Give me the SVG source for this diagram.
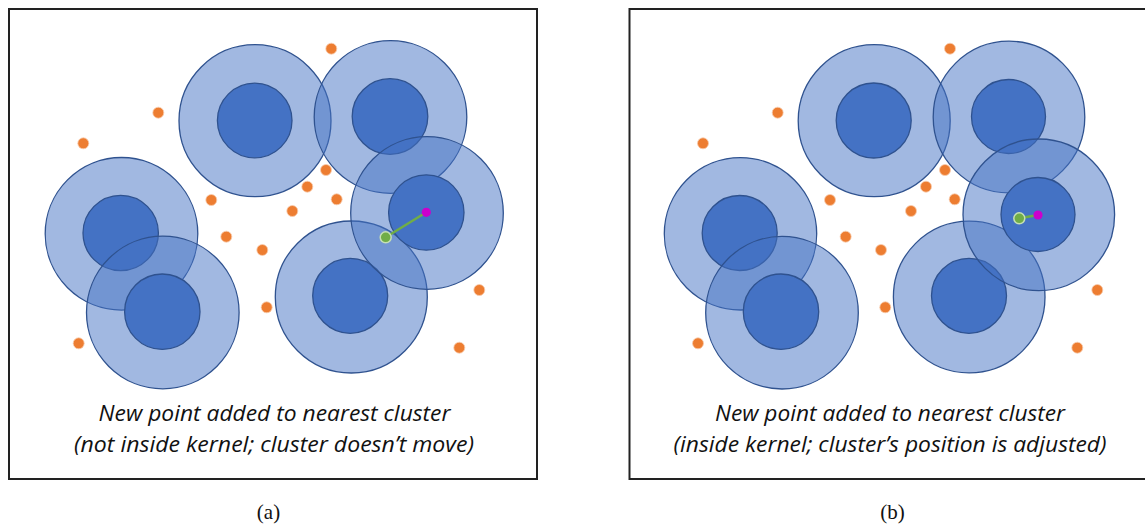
<svg xmlns="http://www.w3.org/2000/svg" width="1145" height="527" viewBox="0 0 1145 527">
<style>
.frame{fill:#fff;stroke:#222;stroke-width:2}
.outer{fill:#4472C4;fill-opacity:0.5;stroke:#2F528F;stroke-width:1.3}
.inner{fill:#4472C4;stroke:#2F528F;stroke-width:1.3}
.dot{fill:#ED7D31;stroke:#F8CBAD;stroke-width:0.8}
.newpt{fill:#70AD47;stroke:#C5E0B4;stroke-width:1.5}
.center{fill:#CC00CC}
.link{stroke:#70AD47;stroke-width:2.5;fill:none}
.cap{font-family:"Open Sans","Liberation Sans",sans-serif;font-style:italic;font-size:21px;fill:#111;text-anchor:middle}
.lbl{font-family:"Liberation Serif",serif;font-size:21px;fill:#111;text-anchor:middle}
</style>
<rect width="1145" height="527" fill="#fff"/>

<!-- Panel (a) -->
<g id="panel-a">
<rect class="frame" x="9" y="9" width="528" height="470"/>
<g id="a-points">
<circle class="dot" cx="331.3" cy="48.7" r="5.5"/>
<circle class="dot" cx="158.3" cy="112.7" r="5.5"/>
<circle class="dot" cx="83.3" cy="143.3" r="5.5"/>
<circle class="dot" cx="326" cy="170" r="5.5"/>
<circle class="dot" cx="307.3" cy="186.7" r="5.5"/>
<circle class="dot" cx="211.3" cy="200" r="5.5"/>
<circle class="dot" cx="336.7" cy="199.3" r="5.5"/>
<circle class="dot" cx="292.3" cy="211" r="5.5"/>
<circle class="dot" cx="226.3" cy="236.7" r="5.5"/>
<circle class="dot" cx="262.3" cy="250" r="5.5"/>
<circle class="dot" cx="479.3" cy="290" r="5.5"/>
<circle class="dot" cx="266.7" cy="307.3" r="5.5"/>
<circle class="dot" cx="78.7" cy="343.3" r="5.5"/>
<circle class="dot" cx="459.3" cy="347.7" r="5.5"/>
</g>
<g id="a-cluster-top">
<circle class="outer" cx="255" cy="120.7" r="76"/>
<circle class="inner" cx="254.7" cy="120.5" r="37.3"/>
</g>
<g id="a-cluster-topright">
<circle class="outer" cx="390.5" cy="117" r="76.3"/>
<circle class="inner" cx="390" cy="116.5" r="37.8"/>
</g>
<g id="a-cluster-left">
<circle class="outer" cx="121.5" cy="233.8" r="76.3"/>
<circle class="inner" cx="120.7" cy="233" r="37.7"/>
</g>
<g id="a-cluster-bottomleft">
<circle class="outer" cx="162.8" cy="312.5" r="76.3"/>
<circle class="inner" cx="162.3" cy="311.7" r="37.7"/>
</g>
<g id="a-cluster-bottom">
<circle class="outer" cx="351.3" cy="297" r="76"/>
<circle class="inner" cx="350.2" cy="295.8" r="37.5"/>
</g>
<g id="a-cluster-right">
<circle class="outer" cx="427" cy="213" r="76.3"/>
<circle class="inner" cx="426.3" cy="212.5" r="37.7"/>
</g>
<g id="a-connectors">
<line class="link" x1="385.7" y1="237.3" x2="426.3" y2="212.3"/>
</g>
<g id="a-newpoint"><circle class="newpt" cx="385.7" cy="237.3" r="5.5"/></g>
<g id="a-center"><circle class="center" cx="426.3" cy="212.3" r="4.6"/></g>
<g id="a-caption">
<text class="cap" x="274.5" y="421" textLength="352" lengthAdjust="spacingAndGlyphs">New point added to nearest cluster</text>
<text class="cap" x="274" y="451.5" textLength="400" lengthAdjust="spacingAndGlyphs">(not inside kernel; cluster doesn’t move)</text>
</g>
<text class="lbl" x="268.5" y="519">(a)</text>
</g>

<!-- Panel (b) -->
<g id="panel-b">
<rect class="frame" x="629.5" y="9" width="530" height="470"/>
<g id="b-points">
<circle class="dot" cx="950" cy="48.7" r="5.5"/>
<circle class="dot" cx="777.7" cy="112.7" r="5.5"/>
<circle class="dot" cx="703" cy="143.3" r="5.5"/>
<circle class="dot" cx="945" cy="170" r="5.5"/>
<circle class="dot" cx="926" cy="186.7" r="5.5"/>
<circle class="dot" cx="830" cy="200" r="5.5"/>
<circle class="dot" cx="954.7" cy="199.3" r="5.5"/>
<circle class="dot" cx="911" cy="211" r="5.5"/>
<circle class="dot" cx="845.7" cy="236.7" r="5.5"/>
<circle class="dot" cx="881" cy="250" r="5.5"/>
<circle class="dot" cx="1097.3" cy="290" r="5.5"/>
<circle class="dot" cx="885.3" cy="307.3" r="5.5"/>
<circle class="dot" cx="698" cy="343.3" r="5.5"/>
<circle class="dot" cx="1077.3" cy="347.7" r="5.5"/>
</g>
<g id="b-cluster-top">
<circle class="outer" cx="874.2" cy="120.7" r="76"/>
<circle class="inner" cx="873.7" cy="120.5" r="37.5"/>
</g>
<g id="b-cluster-topright">
<circle class="outer" cx="1009" cy="117" r="75.8"/>
<circle class="inner" cx="1008.5" cy="116.5" r="37"/>
</g>
<g id="b-cluster-left">
<circle class="outer" cx="740.5" cy="233.8" r="76.2"/>
<circle class="inner" cx="739.7" cy="233" r="37.5"/>
</g>
<g id="b-cluster-bottomleft">
<circle class="outer" cx="782" cy="312.7" r="76.3"/>
<circle class="inner" cx="781" cy="311.7" r="37.7"/>
</g>
<g id="b-cluster-bottom">
<circle class="outer" cx="969.2" cy="297" r="75.8"/>
<circle class="inner" cx="969" cy="295.8" r="37.5"/>
</g>
<g id="b-cluster-right">
<circle class="outer" cx="1038.8" cy="214.8" r="75.8"/>
<circle class="inner" cx="1038" cy="214.5" r="37"/>
</g>
<g id="b-connectors">
<line class="link" x1="1019.3" y1="218.3" x2="1038" y2="215"/>
</g>
<g id="b-newpoint"><circle class="newpt" cx="1019.3" cy="218.3" r="5.5"/></g>
<g id="b-center"><circle class="center" cx="1038" cy="215" r="4.6"/></g>
<g id="b-caption">
<text class="cap" x="890" y="421" textLength="350" lengthAdjust="spacingAndGlyphs">New point added to nearest cluster</text>
<text class="cap" x="890" y="451.5" textLength="433" lengthAdjust="spacingAndGlyphs">(inside kernel; cluster’s position is adjusted)</text>
</g>
<text class="lbl" x="892.5" y="519">(b)</text>
</g>
</svg>
